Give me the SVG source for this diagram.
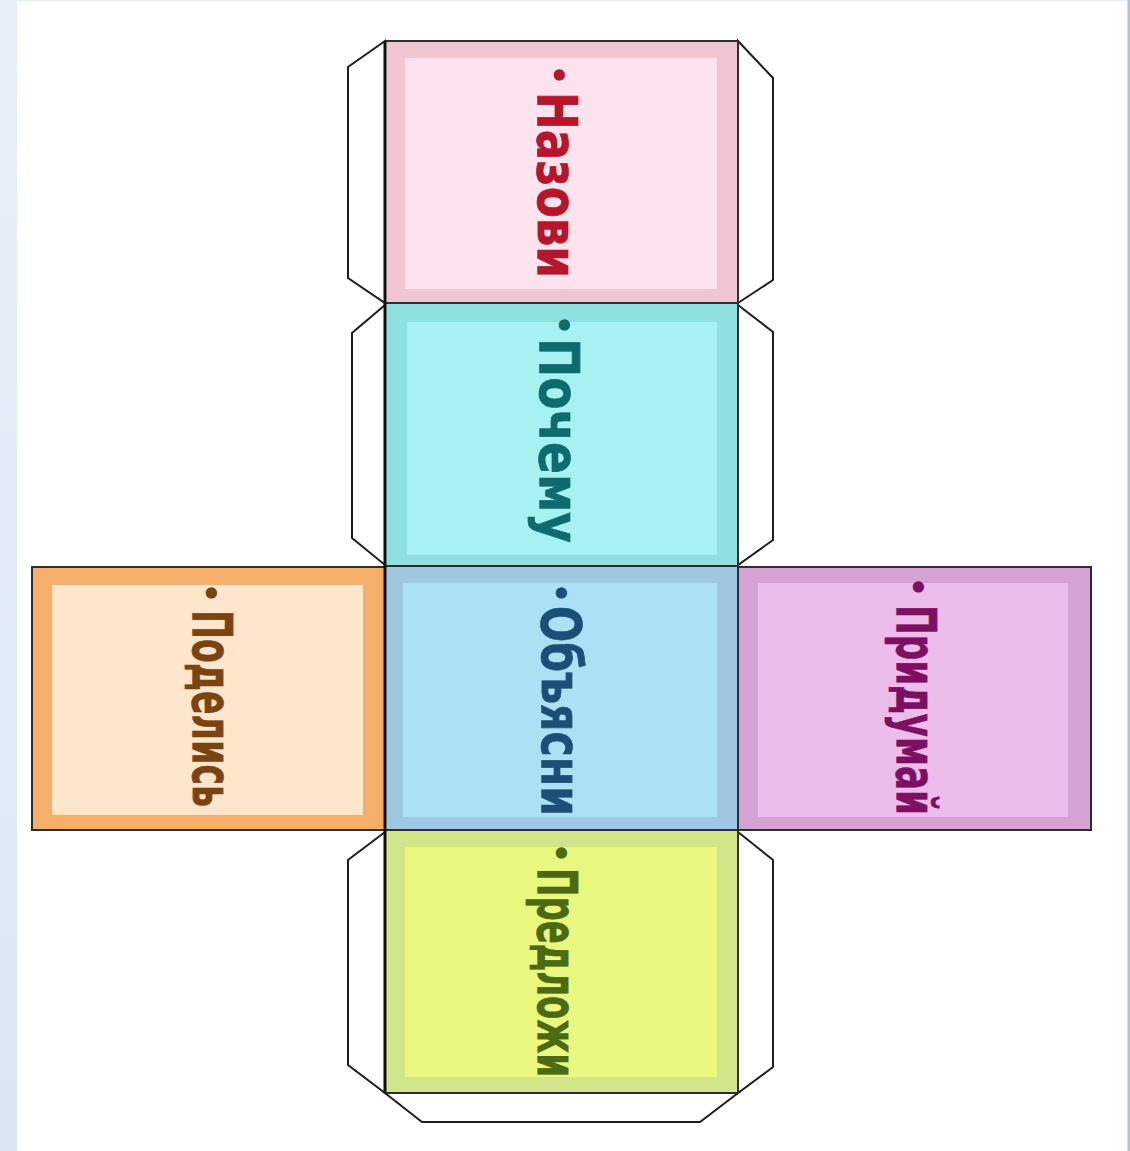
<svg xmlns="http://www.w3.org/2000/svg" width="1130" height="1151" viewBox="0 0 1130 1151">
<defs>
<linearGradient id="side" x1="0" y1="0" x2="0" y2="1">
<stop offset="0" stop-color="#e8eff8"/>
<stop offset="1" stop-color="#dce7f2"/>
</linearGradient>
</defs>
<style>
.flap{fill:#fff;stroke:#1e1e1e;stroke-width:2;stroke-linejoin:miter}
.face{stroke:#2e2e2e;stroke-width:2}
.lbl{font-family:"DejaVu Sans",Verdana,sans-serif;font-weight:bold;font-size:55px;stroke-width:0.7}
.dot{font-family:"DejaVu Sans",sans-serif;font-weight:bold;font-size:32px;text-anchor:middle;dominant-baseline:central}
</style>
<rect x="0" y="0" width="1130" height="1151" fill="#ffffff"/>
<rect x="0" y="0" width="17" height="1151" fill="url(#side)"/>
<rect x="0" y="0" width="1130" height="1.5" fill="#e6eef7"/>
<rect x="1127.5" y="0" width="2.5" height="1151" fill="#a9c4dc"/>

<g id="flaps">
<polygon class="flap" points="385,41 348,67 348,278 385,303"/>
<polygon class="flap" points="738,41 773,78 773,280 738,303"/>
<polygon class="flap" points="385,305 352,333 352,538 385,565"/>
<polygon class="flap" points="738,305 773,332 773,540 738,565"/>
<polygon class="flap" points="385,832 348,860 348,1065 385,1093"/>
<polygon class="flap" points="738,832 773,860 773,1067 738,1093"/>
<polygon class="flap" points="385,1093 422,1122 700,1122 738,1093"/>
</g>

<g id="face-nazovi">
<rect class="face" x="385" y="41" width="353" height="262" fill="#f1c5d1"/>
<rect x="405" y="58" width="312" height="231" fill="#fce3ed"/>
<text class="dot" transform="translate(558,75) rotate(90)" fill="#b5162b">•</text>
<text class="lbl" transform="translate(538,92) rotate(90)" textLength="186" lengthAdjust="spacingAndGlyphs" fill="#b5162b" stroke="#b5162b">Назови</text>
</g>

<g id="face-pochemu">
<rect class="face" x="385" y="303" width="353" height="263" fill="#8fe1e1"/>
<rect x="407" y="322" width="310" height="233" fill="#a6f2f2"/>
<text class="dot" transform="translate(563,325) rotate(90)" fill="#0f6a6d">•</text>
<text class="lbl" transform="translate(540,338) rotate(90)" textLength="205" lengthAdjust="spacingAndGlyphs" fill="#0f6a6d" stroke="#0f6a6d">Почему</text>
</g>

<g id="face-obyasni">
<rect class="face" x="385" y="566" width="353" height="264" fill="#9fc7e1"/>
<rect x="403" y="583" width="314" height="234" fill="#ace1f5"/>
<text class="dot" transform="translate(560,593) rotate(90)" fill="#1b4f78">•</text>
<text class="lbl" transform="translate(542,606) rotate(90)" textLength="210" lengthAdjust="spacingAndGlyphs" fill="#1b4f78" stroke="#1b4f78">Объясни</text>
</g>

<g id="face-predlozhi">
<rect class="face" x="385" y="830" width="353" height="263" fill="#d1e689"/>
<rect x="405" y="847" width="312" height="230" fill="#ebf87f"/>
<text class="dot" transform="translate(560,853) rotate(90)" fill="#4b6a12">•</text>
<text class="lbl" transform="translate(538,868) rotate(90)" textLength="209" lengthAdjust="spacingAndGlyphs" fill="#4b6a12" stroke="#4b6a12">Предложи</text>
</g>

<g id="face-podelis">
<rect class="face" x="32" y="567" width="353" height="263" fill="#f6ae6b"/>
<rect x="52" y="585" width="311" height="230" fill="#fde6cc"/>
<text class="dot" transform="translate(210,593) rotate(90)" fill="#7a4312">•</text>
<text class="lbl" transform="translate(193,610) rotate(90)" textLength="197" lengthAdjust="spacingAndGlyphs" fill="#7a4312" stroke="#7a4312">Поделись</text>
</g>

<g id="face-pridumai">
<rect class="face" x="738" y="567" width="353" height="263" fill="#d5a3d3"/>
<rect x="758" y="583" width="310" height="234" fill="#ecbcea"/>
<text class="dot" transform="translate(917,587) rotate(90)" fill="#7d1062">•</text>
<text class="lbl" transform="translate(897,605) rotate(90)" textLength="210" lengthAdjust="spacingAndGlyphs" fill="#7d1062" stroke="#7d1062">Придумай</text>
</g>

<line x1="385" y1="41" x2="385" y2="1093" stroke="#111" stroke-width="3"/>
</svg>
